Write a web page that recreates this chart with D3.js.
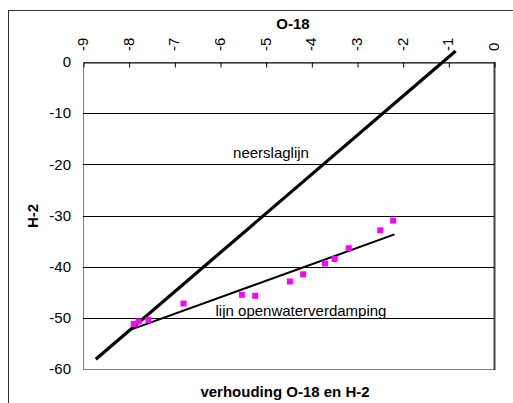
<!DOCTYPE html>
<html>
<head>
<meta charset="utf-8">
<script src="https://cdn.jsdelivr.net/npm/d3@7"></script>
<style>
  html, body { margin: 0; padding: 0; background: #fff; }
  svg { display: block; font-family: "Liberation Sans", Arial, sans-serif; }
</style>
</head>
<body>
<svg id="chart" width="513" height="403"></svg>
<script>
// Measured samples: delta O-18 versus delta H-2 (per mille)
const o18 = [-7.89, -7.78, -7.57, -6.80, -5.52, -5.23, -4.47, -4.18, -3.70, -3.49, -3.18, -2.49, -2.21];
const h2  = [-51.2, -50.7, -50.4, -47.2, -45.5, -45.7, -42.9, -41.5, -39.4, -38.5, -36.4, -32.9, -31.0];

// Reference lines (end points)
const neerslagX = [-8.72, -0.84];
const neerslagY = [-58.1, 2.15];
const openwaterX = [-7.92, -2.18];
const openwaterY = [-52.2, -33.7];

const xTicks = [-9, -8, -7, -6, -5, -4, -3, -2, -1, 0];
const yTicks = [0, -10, -20, -30, -40, -50, -60];

const svg = d3.select("#chart");
const L = 83, R = 494, T = 62, B = 369;
const FS = 15;

const x = d3.scaleLinear().domain([-9, 0]).range([L, R]);
const y = d3.scaleLinear().domain([0, -60]).range([T, B]);

// chart area border
svg.append("rect").attr("x", 8.5).attr("y", 10.5).attr("width", 520).attr("height", 400)
  .attr("fill", "#fff").attr("stroke", "#333").attr("stroke-width", 1);

// plot area border
svg.append("rect").attr("x", L + 0.5).attr("y", T + 0.5).attr("width", R - L).attr("height", B - T)
  .attr("fill", "none").attr("stroke", "#808080").attr("stroke-width", 1);
svg.append("line").attr("x1", R + 0.5).attr("x2", R + 0.5).attr("y1", T).attr("y2", B + 1)
  .attr("stroke", "#444").attr("stroke-width", 2);

// horizontal gridlines
svg.append("g").selectAll("line").data(yTicks.filter(d => d < 0 && d > -60)).join("line")
  .attr("x1", L).attr("x2", R)
  .attr("y1", d => Math.round(y(d)) + 0.5).attr("y2", d => Math.round(y(d)) + 0.5)
  .attr("stroke", "#000").attr("stroke-width", 1);

// top O-18 axis, crossing at H-2 = 0
const xAxis = d3.axisTop(x).tickValues(xTicks).tickSize(-5).tickSizeOuter(0).tickPadding(0);
const gx = svg.append("g").attr("transform", `translate(0.5,${T + 0.5})`).call(xAxis);
gx.select(".domain").attr("stroke", "#000");
gx.selectAll(".tick line").attr("stroke", "#000");
gx.selectAll(".tick text").remove();
svg.append("g").selectAll("text").data(xTicks).join("text")
  .attr("transform", d => `translate(${x(d) + 5},51) rotate(-90)`)
  .attr("text-anchor", "start")
  .attr("font-size", FS).attr("fill", "#000")
  .text(d => String(d));

// left H-2 axis labels
const yAxis = d3.axisLeft(y).tickValues(yTicks).tickSize(0).tickPadding(12);
const gy = svg.append("g").attr("transform", `translate(${L},0)`).call(yAxis);
gy.attr("font-family", null);
gy.select(".domain").remove();
gy.selectAll(".tick text").attr("font-size", FS).attr("fill", "#000")
  .text(d => String(d));

// lines
const lineGen = d3.line().x(d => x(d[0])).y(d => y(d[1]));
svg.append("path").datum(d3.zip(neerslagX, neerslagY)).attr("d", lineGen)
  .attr("fill", "none").attr("stroke", "#000").attr("stroke-width", 3.2);
svg.append("path").datum(d3.zip(openwaterX, openwaterY)).attr("d", lineGen)
  .attr("fill", "none").attr("stroke", "#000").attr("stroke-width", 2);

// sample markers
const s = 6;
svg.append("g").selectAll("rect").data(d3.zip(o18, h2)).join("rect")
  .attr("x", d => x(d[0]) - s / 2).attr("y", d => y(d[1]) - s / 2)
  .attr("width", s).attr("height", s).attr("fill", "#ff00ff");

// line labels
svg.append("text").attr("x", 271).attr("y", 158).attr("text-anchor", "middle")
  .attr("font-size", FS).attr("fill", "#000").text("neerslaglijn");
svg.append("text").attr("x", 301).attr("y", 316).attr("text-anchor", "middle")
  .attr("font-size", FS).attr("fill", "#000").text("lijn openwaterverdamping");

// axis titles
svg.append("text").attr("x", 293).attr("y", 29).attr("text-anchor", "middle")
  .attr("font-size", FS).attr("font-weight", "bold").text("O-18");
svg.append("text").attr("transform", "translate(38,216) rotate(-90)").attr("text-anchor", "middle")
  .attr("font-size", FS).attr("font-weight", "bold").text("H-2");
svg.append("text").attr("x", 285).attr("y", 397).attr("text-anchor", "middle")
  .attr("font-size", FS).attr("font-weight", "bold").text("verhouding O-18 en H-2");
</script>
</body>
</html>
